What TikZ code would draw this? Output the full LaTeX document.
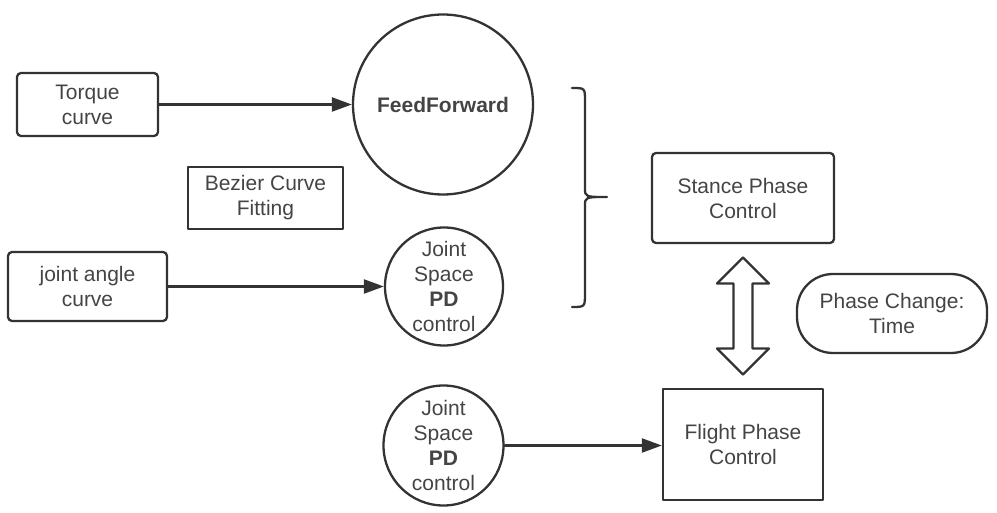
\documentclass[tikz,border=0pt]{standalone}
\usepackage{fontspec}
\setmainfont{Liberation Sans}
\usetikzlibrary{arrows.meta,calc}
\definecolor{ink}{HTML}{333333}
\definecolor{txt}{HTML}{444444}
\begin{document}
\begin{tikzpicture}[x=1pt, y=1pt, line cap=round, line join=round,
  every node/.style={text=txt, font=\fontsize{21}{25}\selectfont, align=center, inner sep=0pt},
  box/.style={draw=ink, line width=2.3pt, minimum width=#1},
  roundbox/.style={box=#1, rounded corners=4pt},
  ring/.style={draw=ink, line width=2.3pt, circle, minimum size=#1},
  feed/.style={draw=ink, line width=2.3pt, -{Triangle[length=20pt, width=14pt]}}]
\useasboundingbox (0,0) rectangle (997,512);
%\draw[help lines] (0,0) grid[step=50] (997,512);

% left column
\node [roundbox=141, minimum height=63] (torque) at (87.5,407.5) {Torque\\curve};
\node [box=155, minimum height=62] (bezier) at (265.5,314) {Bezier Curve\\Fitting};
\node [roundbox=159, minimum height=69] (jangle) at (87.5,225.5) {joint angle\\curve};

% controllers
\node [ring=180] (ffwd) at (443,407.5) {\bfseries FeedForward};
\node [ring=118] (jspace) at (444,225.5) {Joint\\Space\\\bfseries PD\\control};
\node [ring=120] (jflight) at (443.5,66.5) {Joint\\Space\\\bfseries PD\\control};

% phases
\node [roundbox=182, minimum height=90] (stance) at (743,314) {Stance Phase\\Control};
\node [box=160, minimum height=111] (flight) at (743,67.5) {Flight Phase\\Control};
\node [box=190, minimum height=79, rounded corners=36pt] (change) at (892,198.5) {Phase Change:\\Time};

\draw [feed] (torque.east) -- (ffwd.west);
\draw [feed] (jangle.east) -- (jspace.west);
\draw [feed] (jflight.east) -- (jflight.east -| flight.west);

% brace
\draw [ink, line width=2.3pt] (572,424) .. controls (585,424) .. (585,411) -- (585,324)
  .. controls (585,315) .. (607,315) .. controls (585,315) .. (585,306) -- (585,219)
  .. controls (585,205) .. (572,205);

% switch between phases
\coordinate (mid) at ($(stance.south)!0.5!(flight.north)$);
\draw [ink, line width=2.3pt] (mid) ++(0,58.5) -- ++(26,-26) -- ++(-16.5,0) -- ++(0,-65)
  -- ++(16.5,0) -- ++(-26,-26) -- ++(-26,26) -- ++(16.5,0) -- ++(0,65) -- ++(-16.5,0) -- cycle;

\end{tikzpicture}
\end{document}
